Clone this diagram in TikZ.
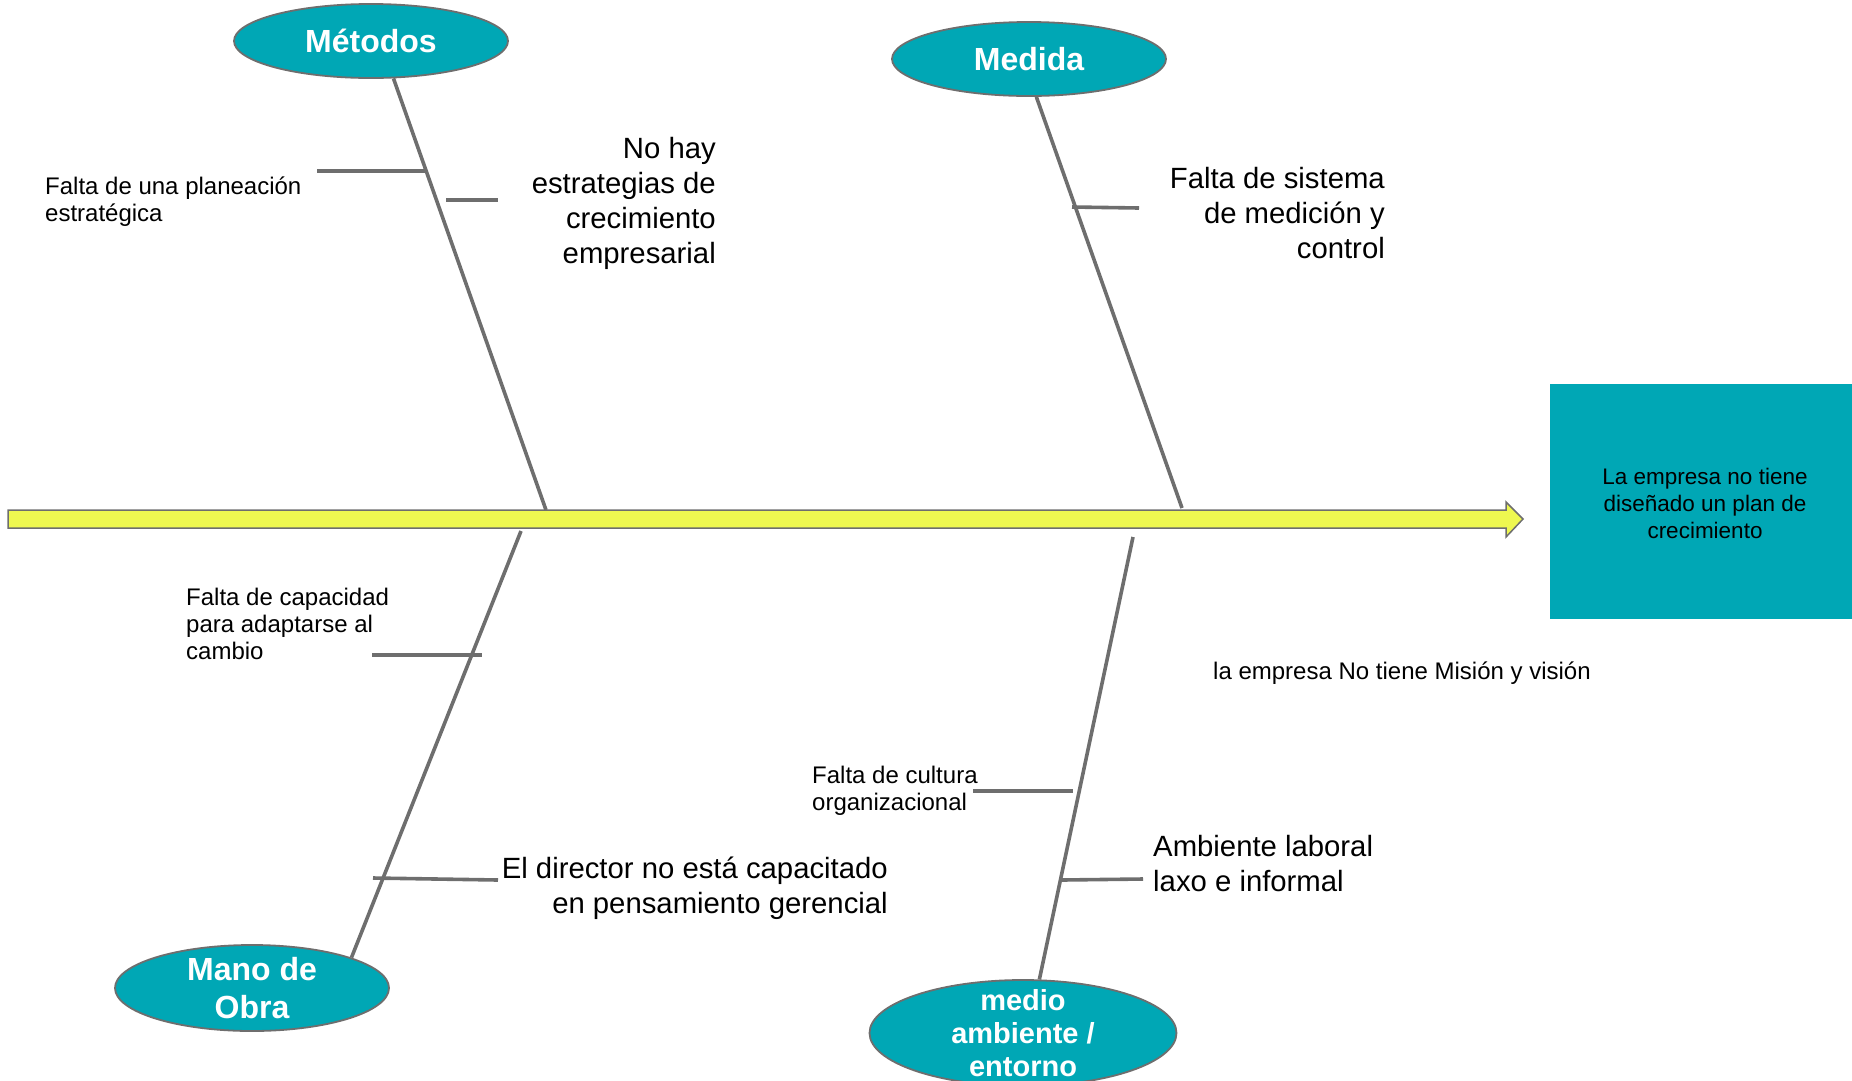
\documentclass[tikz,border=0pt]{standalone}
\usepackage{fontspec}
\setmainfont{Liberation Sans}
\usetikzlibrary{shapes.geometric}
\definecolor{teal}{RGB}{0,167,181}
\definecolor{linegray}{RGB}{110,110,110}
\definecolor{spineyellow}{RGB}{238,248,80}
\tikzset{
  cause/.style={ellipse,draw=linegray,line width=1.8pt,fill=teal,inner sep=0pt,
    minimum width=274,minimum height=74},
  causetext/.style={text=white,font=\fontsize{32}{38}\selectfont\bfseries,align=center},
  bone/.style={linegray,line width=3.6pt},
  small/.style={font=\fontsize{24}{27}\selectfont,inner sep=0pt},
  big/.style={font=\fontsize{29.3}{35}\selectfont,inner sep=0pt},
}
\begin{document}
\begin{tikzpicture}[x=1pt,y=-1pt]
  \useasboundingbox (0,0) rectangle (1852,1080);
  % spine arrow and effect box
  \draw[linegray,line width=1.5pt,fill=spineyellow] (8,510) -- (1506,510) -- (1506,502) -- (1523,519)
    -- (1506,537) -- (1506,528) -- (8,528) -- cycle;
  \node[fill=teal,minimum width=310,minimum height=235,inner sep=0pt] (efecto) at (1705,501) {};
  \node[font=\fontsize{22.5}{27}\selectfont,inner sep=0pt,align=center] (efectotxt) at (1705,503)
    {La empresa no tiene\\dise\~nado un plan de\\crecimiento};
  \node[small,anchor=west] (mision) at (1213,673) {la empresa No tiene Misi\'on y visi\'on};
  % the four causes
  \node[cause,label={[causetext]center:M\'etodos}] (metodos) at (371,41) {};
  \node[cause,label={[causetext]center:Medida}] (medida) at (1029,59) {};
  \node[cause,minimum height=86,label={[causetext]center:Mano de\\Obra}] (mano) at (252,988) {};
  \node[cause,minimum width=307,minimum height=106,
    label={[causetext,font=\fontsize{29}{33}\selectfont\bfseries]center:medio\\ambiente /\\entorno}] (medio) at (1023,1033) {};
  % where the bones meet the spine
  \coordinate (m0) at (546,510);
  \coordinate (d0) at (1182,508);
  \coordinate (o0) at (521,531);
  \coordinate (e0) at (1133,537);
  \draw[bone] (metodos.-59) -- (m0);
  \draw[bone] (medida.-79) -- (d0);
  \draw[bone] (mano.17) -- (o0);
  \draw[bone] (medio.73) -- (e0);
  % sub causes, upper side
  \draw[bone] (317,171) -- (425,171);
  \draw[bone] (446,200) -- (498,200);
  \draw[bone] (1072,207) -- (1139,208);
  \node[small,align=left,anchor=west] (planeacion) at (45,202)
    {Falta de una planeaci\'on\\estrat\'egica};
  \node[big,align=right,anchor=east] (estrategias) at (716,203)
    {No hay\\estrategias de\\crecimiento\\empresarial};
  \node[big,align=right,anchor=east] (sistema) at (1385,213)
    {Falta de sistema\\de medici\'on y\\control};
  % sub causes, lower side
  \draw[bone] (372,655) -- (482,655);
  \draw[bone] (373,878) -- (498,880);
  \draw[bone] (973,791) -- (1073,791);
  \draw[bone] (1062,880) -- (1143,879);
  \node[small,align=left,anchor=west] (capacidad) at (186,624)
    {Falta de capacidad\\para adaptarse al\\cambio};
  \node[big,align=right,anchor=east] (director) at (888,888)
    {El director no est\'a capacitado\\en pensamiento gerencial};
  \node[small,align=left,anchor=west] (cultura) at (812,791)
    {Falta de cultura\\organizacional};
  \node[big,align=left,anchor=west] (ambiente) at (1153,864)
    {Ambiente laboral\\laxo e informal};
\end{tikzpicture}
\end{document}
